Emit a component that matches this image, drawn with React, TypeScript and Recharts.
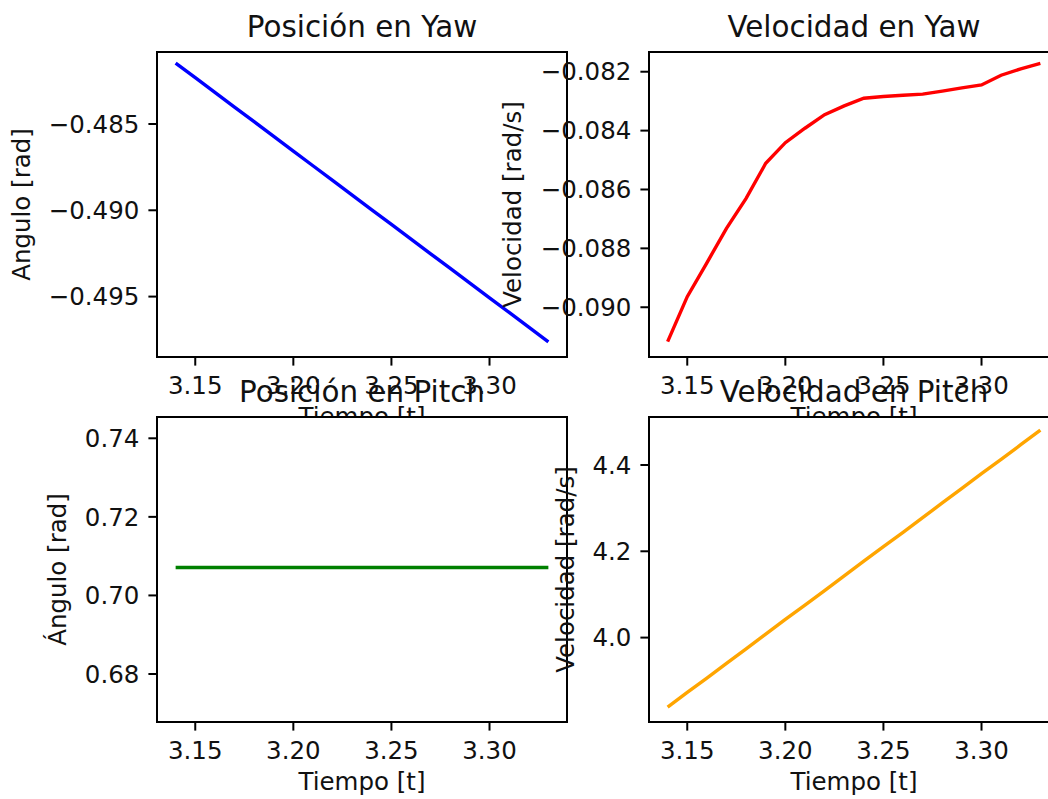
import React from 'react';
import { LineChart, Line, XAxis, YAxis, ReferenceArea, CartesianGrid } from 'recharts';

// ---- data ----
const tiempo = [3.14, 3.15, 3.16, 3.17, 3.18, 3.19, 3.2, 3.21, 3.22, 3.23, 3.24, 3.25, 3.26, 3.27, 3.28, 3.29, 3.3, 3.31, 3.32, 3.33];

const posicionYaw = [-0.48147, -0.48232, -0.48317, -0.48402, -0.48487, -0.48572, -0.48657, -0.48742, -0.48827, -0.48912,
  -0.48997, -0.49082, -0.49167, -0.49252, -0.49337, -0.49422, -0.49507, -0.49592, -0.49677, -0.49762];

const velocidadYaw = [-0.09117, -0.08964, -0.08849, -0.08732, -0.0863, -0.08511, -0.08441, -0.08392, -0.08346, -0.08316,
  -0.0829, -0.08284, -0.0828, -0.08276, -0.08266, -0.08255, -0.08245, -0.08212, -0.0819, -0.08172];

const posicionPitch = [0.7071, 0.7071, 0.7071, 0.7071, 0.7071, 0.7071, 0.7071, 0.7071, 0.7071, 0.7071,
  0.7071, 0.7071, 0.7071, 0.7071, 0.7071, 0.7071, 0.7071, 0.7071, 0.7071, 0.7071];

const velocidadPitch = [3.839, 3.873, 3.906, 3.94, 3.974, 4.008, 4.042, 4.075, 4.109, 4.143,
  4.177, 4.211, 4.244, 4.278, 4.312, 4.346, 4.38, 4.413, 4.447, 4.481];

const xTicks = [3.15, 3.2, 3.25, 3.3];
const xDomain: [number, number] = [3.1305, 3.3395];

const yawPosTicks = [-0.495, -0.49, -0.485];
const yawVelTicks = [-0.09, -0.088, -0.086, -0.084, -0.082];
const pitchPosTicks = [0.68, 0.7, 0.72, 0.74];
const pitchVelTicks = [4.0, 4.2, 4.4];

const mk = (vals: number[]) => tiempo.map((t, i) => ({ t, v: vals[i] }));

const FONT = 'DejaVu Sans';
const TXT = '#111';
const CW = 1060;
const CH = 799;

type SubProps = {
  data: { t: number; v: number }[];
  color: string;
  title: string;
  ylabel: string;
  yDomain: [number, number];
  yTicks: number[];
  yDec: number;
  labelX: number;
  plotLeft: number;
  plotRight: number;
  plotTop: number;
  plotBottom: number;
  background: boolean;
};

const fmt = (d: number) => (v: number) => v.toFixed(d).replace('-', '\u2212');

function Subplot(p: SubProps) {
  const xAxisH = 30;
  const margin = {
    top: p.plotTop,
    left: p.labelX,
    right: CW - p.plotRight,
    bottom: CH - p.plotBottom - xAxisH,
  };
  const tickStyle = { fill: TXT, fontSize: 24.5, fontFamily: FONT };
  return (
    <div style={{ position: 'absolute', left: 0, top: 0 }}>
      <LineChart width={CW} height={CH} data={p.data} margin={margin}>
        {p.background && (
          <CartesianGrid horizontal={false} vertical={false} fill="#ffffff" fillOpacity={1} />
        )}
        <XAxis
          dataKey="t"
          type="number"
          domain={xDomain}
          allowDataOverflow
          ticks={xTicks}
          tickFormatter={fmt(2)}
          height={xAxisH}
          tick={tickStyle}
          tickSize={8.6}
          tickMargin={11}
          tickLine={{ stroke: '#000', strokeWidth: 2 }}
          axisLine={{ stroke: '#000', strokeWidth: 2 }}
          interval={0}
          label={{ value: 'Tiempo [t]', position: 'bottom', offset: 21, fill: TXT, fontSize: 24.5, fontFamily: FONT }}
        />
        <YAxis
          type="number"
          domain={p.yDomain}
          allowDataOverflow
          ticks={p.yTicks}
          tickFormatter={fmt(p.yDec)}
          width={p.plotLeft - p.labelX}
          tick={tickStyle}
          tickSize={8.6}
          tickMargin={9}
          tickLine={{ stroke: '#000', strokeWidth: 2 }}
          axisLine={{ stroke: '#000', strokeWidth: 2 }}
          interval={0}
          label={{
            value: p.ylabel,
            angle: -90,
            position: 'insideLeft',
            offset: 0,
            fill: TXT,
            fontSize: 24.5,
            fontFamily: FONT,
            style: { textAnchor: 'middle' },
          }}
        />
        <Line
          type="linear"
          dataKey="v"
          stroke={p.color}
          strokeWidth={3.4}
          dot={false}
          activeDot={false}
          isAnimationActive={false}
        />
        <ReferenceArea
          x1={xDomain[0]}
          x2={xDomain[1]}
          y1={p.yDomain[0]}
          y2={p.yDomain[1]}
          fill="none"
          stroke="#000"
          strokeWidth={2}
          ifOverflow="visible"
          label={{ value: p.title, position: 'top', offset: 15.5, fill: TXT, fontSize: 29.4, fontFamily: FONT }}
        />
      </LineChart>
    </div>
  );
}

export default function App() {
  return (
    <div
      style={{
        position: 'absolute',
        left: 0,
        top: 0,
        width: 1048,
        height: 799,
        overflow: 'hidden',
        background: '#ffffff',
      }}
    >
      <Subplot
        data={mk(posicionYaw)}
        color="#0000ff"
        title="Posición en Yaw"
        ylabel="Angulo [rad]"
        yDomain={[-0.4985, -0.48083]}
        yTicks={yawPosTicks}
        yDec={3}
        labelX={21.5}
        plotLeft={157}
        plotRight={567}
        plotTop={52}
        plotBottom={357}
        background={true}
      />
      <Subplot
        data={mk(velocidadYaw)}
        color="#ff0000"
        title="Velocidad en Yaw"
        ylabel="Velocidad [rad/s]"
        yDomain={[-0.09169, -0.08133]}
        yTicks={yawVelTicks}
        yDec={3}
        labelX={512}
        plotLeft={649}
        plotRight={1059}
        plotTop={52}
        plotBottom={357}
        background={true}
      />
      <Subplot
        data={mk(posicionPitch)}
        color="#008000"
        title="Posición en Pitch"
        ylabel="Ángulo [rad]"
        yDomain={[0.66778, 0.74542]}
        yTicks={pitchPosTicks}
        yDec={2}
        labelX={57}
        plotLeft={157}
        plotRight={567}
        plotTop={417}
        plotBottom={722}
        background={true}
      />
      <Subplot
        data={mk(velocidadPitch)}
        color="#ffa500"
        title="Velocidad en Pitch"
        ylabel="Velocidad [rad/s]"
        yDomain={[3.8044, 4.5112]}
        yTicks={pitchVelTicks}
        yDec={1}
        labelX={565}
        plotLeft={649}
        plotRight={1059}
        plotTop={417}
        plotBottom={722}
        background={true}
      />
    </div>
  );
}
